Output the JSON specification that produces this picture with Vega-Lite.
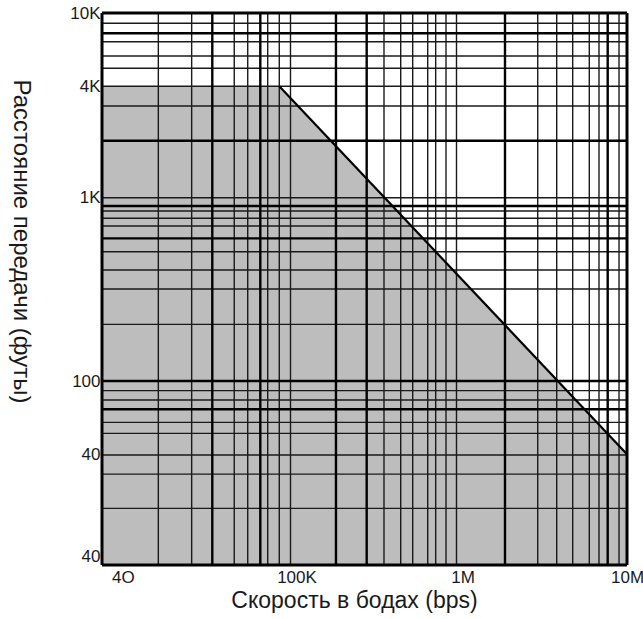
{
  "$schema": "https://vega.github.io/schema/vega-lite/v6.json",
  "width": 525,
  "height": 552,
  "autosize": {"type": "none"},
  "padding": {"left": 102, "top": 13, "right": 16, "bottom": 54},
  "background": "white",
  "config": {"view": {"stroke": null}, "font": "Liberation Sans"},
  "datasets": {
    "zone": [
      {"bps": 10000, "ft": 4000},
      {"bps": 87200, "ft": 4000},
      {"bps": 10000000, "ft": 40}
    ],
    "limit": [
      {"bps": 87200, "ft": 4000},
      {"bps": 10000000, "ft": 40}
    ],
    "xThin": [
      {"bps": 19900}, {"bps": 29900}, {"bps": 50300}, {"bps": 59300}, {"bps": 75700},
      {"bps": 87200}, {"bps": 100000}, {"bps": 365800}, {"bps": 461200}, {"bps": 544700},
      {"bps": 670800}, {"bps": 749200}, {"bps": 864500}, {"bps": 1000000}, {"bps": 2995000},
      {"bps": 3870000}, {"bps": 4803000}, {"bps": 6010000}, {"bps": 6851000}, {"bps": 8979000}
    ],
    "xThick": [
      {"bps": 38470}, {"bps": 69160}, {"bps": 187900}, {"bps": 287700}, {"bps": 1925000}, {"bps": 7705000}
    ],
    "xEdge": [{"bps": 10000}, {"bps": 10000000}],
    "yThin": [
      {"ft": 8790}, {"ft": 6982}, {"ft": 5838}, {"ft": 5006}, {"ft": 4000}, {"ft": 3123},
      {"ft": 990}, {"ft": 839}, {"ft": 766}, {"ft": 696}, {"ft": 504}, {"ft": 401},
      {"ft": 316}, {"ft": 203}, {"ft": 88.6}, {"ft": 78.8}, {"ft": 59.6}, {"ft": 51.9},
      {"ft": 39.6}, {"ft": 31.2}, {"ft": 20.3}
    ],
    "yThick": [{"ft": 7757}, {"ft": 2023}, {"ft": 894}, {"ft": 596}, {"ft": 100}, {"ft": 70.2}],
    "yEdge": [{"ft": 10}, {"ft": 10000}]
  },
  "layer": [
    {
      "data": {"name": "zone"},
      "mark": {"type": "area", "color": "#bdbdbd", "opacity": 1},
      "encoding": {
        "x": {
          "field": "bps",
          "type": "quantitative",
          "title": "Скорость в бодах (bps)",
          "scale": {
            "type": "log",
            "domain": [10000, 100000, 1000000, 10000000],
            "range": [0, 188.5, 354.5, 525],
            "nice": false
          },
          "axis": {
            "values": [12900, 100000, 1000000, 10000000],
            "labelExpr": "datum.value < 50000 ? '4O' : datum.value < 500000 ? '100K' : datum.value < 5000000 ? '1M' : '10M'",
            "labelOffset": {"condition": {"test": "datum.value > 50000 && datum.value < 5000000", "value": 6}, "value": 0},
            "domain": false,
            "ticks": false,
            "grid": false,
            "labelFontSize": 17,
            "labelColor": "#1a1a1a",
            "labelPadding": 4,
            "labelAlign": "center",
            "labelFlush": false,
            "labelOverlap": false,
            "titleFontSize": 23,
            "titleFontWeight": "normal",
            "titleColor": "#1a1a1a",
            "titleX": 252,
            "titleY": 35,
            "titleAlign": "center",
            "titleBaseline": "middle"
          }
        },
        "y": {
          "field": "ft",
          "type": "quantitative",
          "title": "Расстояние передачи (футы)",
          "scale": {"type": "log", "domain": [10, 10000], "nice": false},
          "axis": {
            "values": [10, 40, 100, 1000, 4000, 10000],
            "labelExpr": "datum.value <= 40 ? '40' : datum.value == 100 ? '100' : datum.value == 1000 ? '1K' : datum.value == 4000 ? '4K' : '10K'",
            "labelBaseline": {"condition": {"test": "datum.value <= 10", "value": "bottom"}, "value": "middle"},
            "domain": false,
            "ticks": false,
            "grid": false,
            "labelFontSize": 17,
            "labelColor": "#1a1a1a",
            "labelPadding": 2,
            "labelFlush": false,
            "labelOverlap": false,
            "titleFontSize": 24,
            "titleFontWeight": "normal",
            "titleColor": "#1a1a1a",
            "titleAngle": 90,
            "titleX": -82,
            "titleY": 228,
            "titleAlign": "center",
            "titleBaseline": "middle"
          }
        },
        "y2": {"datum": 10}
      }
    },
    {
      "data": {"name": "xThin"},
      "mark": {"type": "rule", "stroke": "#1a1a1a", "strokeWidth": 1.4},
      "encoding": {"x": {"field": "bps", "type": "quantitative", "title": "Скорость в бодах (bps)"}}
    },
    {
      "data": {"name": "yThin"},
      "mark": {"type": "rule", "stroke": "#1a1a1a", "strokeWidth": 1.4},
      "encoding": {"y": {"field": "ft", "type": "quantitative", "title": "Расстояние передачи (футы)"}}
    },
    {
      "data": {"name": "xThick"},
      "mark": {"type": "rule", "stroke": "#000000", "strokeWidth": 2.4},
      "encoding": {"x": {"field": "bps", "type": "quantitative", "title": "Скорость в бодах (bps)"}}
    },
    {
      "data": {"name": "yThick"},
      "mark": {"type": "rule", "stroke": "#000000", "strokeWidth": 2.4},
      "encoding": {"y": {"field": "ft", "type": "quantitative", "title": "Расстояние передачи (футы)"}}
    },
    {
      "data": {"name": "limit"},
      "mark": {"type": "line", "stroke": "#000000", "strokeWidth": 2.2},
      "encoding": {
        "x": {"field": "bps", "type": "quantitative", "title": "Скорость в бодах (bps)"},
        "y": {"field": "ft", "type": "quantitative", "title": "Расстояние передачи (футы)"}
      }
    },
    {
      "data": {"name": "xEdge"},
      "mark": {"type": "rule", "stroke": "#000000", "strokeWidth": 3},
      "encoding": {"x": {"field": "bps", "type": "quantitative", "title": "Скорость в бодах (bps)"}}
    },
    {
      "data": {"name": "yEdge"},
      "mark": {"type": "rule", "stroke": "#000000", "strokeWidth": 3},
      "encoding": {"y": {"field": "ft", "type": "quantitative", "title": "Расстояние передачи (футы)"}}
    }
  ]
}
